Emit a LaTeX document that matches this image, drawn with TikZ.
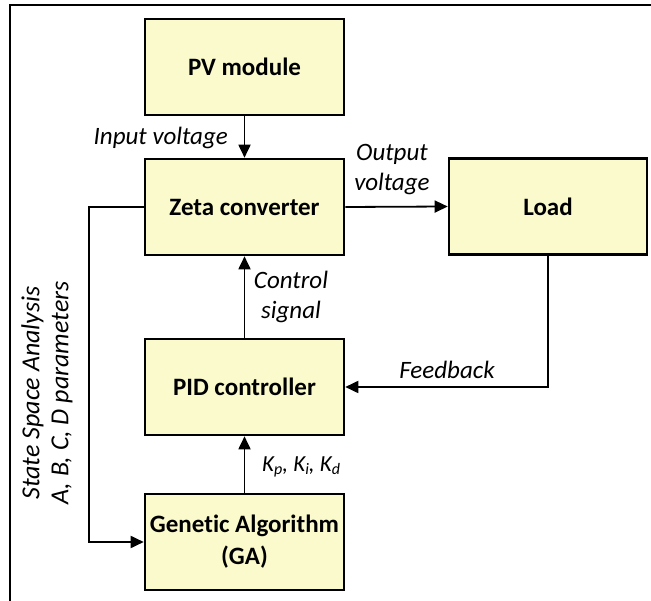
\documentclass[tikz,border=0pt]{standalone}
\usepackage{fontspec}
\setmainfont{Carlito}[Ligatures={NoCommon}]
\usetikzlibrary{arrows.meta}
\definecolor{boxfill}{RGB}{251,250,204}
\tikzset{
  blk/.style={draw=black, line width=2.6pt, fill=boxfill, minimum width=199pt, minimum height=96pt, inner sep=0pt, align=center, font=\fontsize{25}{32}\selectfont\bfseries},
  lbl/.style={inner sep=0pt, align=center, font=\fontsize{25}{30}\selectfont\itshape},
  arr/.style={line width=1.8pt, -{Triangle[length=13pt,width=12pt]}},
  frm/.style={line width=2.8pt}
}
\newcommand{\mysub}[1]{\raisebox{-2.5pt}{\fontsize{16}{16}\selectfont #1}}
\begin{document}
\begin{tikzpicture}[x=1pt,y=-1pt]
\useasboundingbox (0,0) rectangle (651,601);
\draw[frm] (10,601) -- (10,5) -- (651,5);
\node[blk] (pv) at (244.5,67) {PV module};
\node[blk] (zeta) at (244.5,207) {Zeta converter};
\node[blk, minimum width=198pt] (load) at (548,206.5) {Load};
\node[blk] (pid) at (244.5,387) {PID controller};
\node[blk] (ga) at (244.5,542) {Genetic Algorithm\\(GA)};
\draw[arr] (pv.south) -- (zeta.north);
\draw[arr] (zeta.east) -- (load.west);
\draw[arr] (pid.north) -- (zeta.south);
\draw[arr] (ga.north) -- (pid.south);
\draw[arr] (load.south) |- (pid.east);
\draw[arr] (zeta.west) -- ++(-55,0) |- (ga.west);
\node[lbl, anchor=east] (inv) at (228,138) {Input voltage};
\node[lbl] (outv) at (392,170) {Output\\voltage};
\node[lbl] (ctrl) at (291,297) {Control\\signal};
\node[lbl] (fb) at (447,370) {Feedback};
\node[lbl, anchor=west, font=\fontsize{23}{26}\selectfont\itshape] (kk) at (262,467) {K\mysub{p}, K\mysub{i}, K\mysub{d}};
\node[lbl, rotate=90, font=\fontsize{26}{29}\selectfont\itshape] (ss) at (47,393) {State Space Analysis\\A, B, C, D parameters};
\end{tikzpicture}
\end{document}
